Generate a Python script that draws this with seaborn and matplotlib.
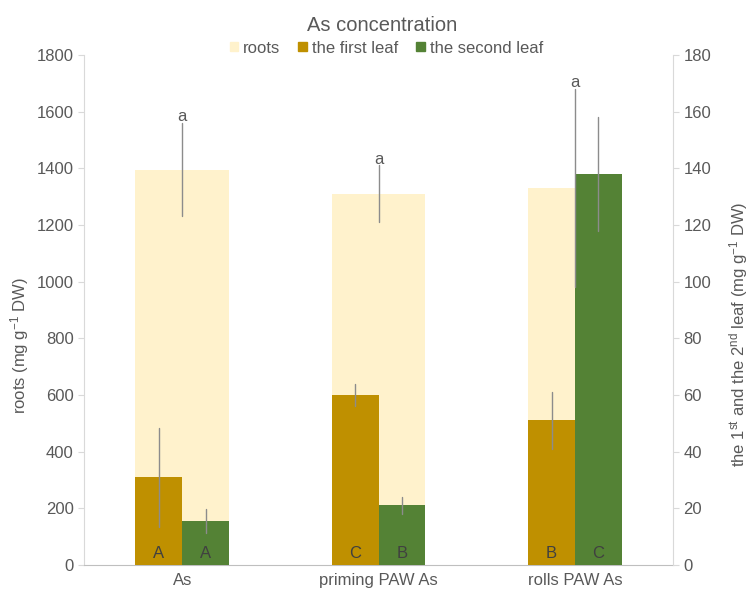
import matplotlib
matplotlib.use('Agg')
import matplotlib.pyplot as plt
from matplotlib.patches import Patch
import seaborn as sns
import pandas as pd

# Data
GROUPS = ['As', 'priming PAW As', 'rolls PAW As']
ROOTS = [1395, 1310, 1330]
ROOTS_ERR = [165, 100, 350]
FIRST_LEAF = [31, 60, 51]
FIRST_ERR = [17.5, 3.8, 10]
SECOND_LEAF = [15.5, 21, 138]
SECOND_ERR = [4.3, 3, 20]
ROOT_LETTERS = ['a', 'a', 'a']
FIRST_LETTERS = ['A', 'C', 'B']
SECOND_LETTERS = ['A', 'B', 'C']
TISSUES = ['the first leaf', 'the second leaf']

C_ROOT = '#FFF2CC'
C_FIRST = '#BF9000'
C_SECOND = '#548235'
C_TEXT = '#595959'
C_ERR = '#8c8c8c'

sns.set_style('white')
plt.rcParams['font.family'] = ['Liberation Sans', 'DejaVu Sans']
plt.rcParams['mathtext.fontset'] = 'custom'
plt.rcParams['mathtext.rm'] = 'Liberation Sans'
plt.rcParams['mathtext.it'] = 'Liberation Sans:italic'

fig = plt.figure(figsize=(7.53, 6.01), dpi=100)
ax = fig.add_axes([0.1116, 0.0599, 0.7822, 0.8486])
ax2 = ax.twinx()

# roots on left axis (background)
sns.barplot(x=GROUPS, y=ROOTS, color=C_ROOT, saturation=1, width=0.476,
            linewidth=0, ax=ax, errorbar=None)

# leaves on right axis
leaf_df = pd.DataFrame({
    'group': GROUPS * 2,
    'tissue': [TISSUES[0]] * 3 + [TISSUES[1]] * 3,
    'value': FIRST_LEAF + SECOND_LEAF,
})
sns.barplot(data=leaf_df, x='group', y='value', hue='tissue', order=GROUPS,
            hue_order=TISSUES, palette=[C_FIRST, C_SECOND], saturation=1,
            width=0.476, gap=0, linewidth=0, errorbar=None, legend=False,
            ax=ax2)

# root error bars drawn on the top axes, but in root units
root_centers = [p.get_x() + p.get_width() / 2 for p in ax.patches]
for xc, v, e, lab in zip(root_centers, ROOTS, ROOTS_ERR, ROOT_LETTERS):
    ax2.plot([xc, xc], [v - e, v + e], color=C_ERR, lw=1.0,
             transform=ax.transData, zorder=5)
    ax2.text(xc, v + e + 22, lab, ha='center', va='center', fontsize=12,
             color=C_TEXT, transform=ax.transData, zorder=6)

for cont, vals, errs, labs in zip(ax2.containers,
                                  [FIRST_LEAF, SECOND_LEAF],
                                  [FIRST_ERR, SECOND_ERR],
                                  [FIRST_LETTERS, SECOND_LETTERS]):
    for p, v, e, lab in zip(cont.patches, vals, errs, labs):
        xc = p.get_x() + p.get_width() / 2
        ax2.plot([xc, xc], [v - e, v + e], color=C_ERR, lw=1.0, zorder=5)
        ax2.text(xc, 4, lab, ha='center', va='center', fontsize=12,
                 color='#404040', zorder=6)

ax.set_xlim(-0.5, 2.5)
ax.set_ylim(0, 1800)
ax2.set_ylim(0, 180)

# axes styling
for a in (ax, ax2):
    a.spines['top'].set_visible(False)
    a.tick_params(axis='y', colors='#d9d9d9', labelcolor=C_TEXT,
                  labelsize=12, length=4, width=0.8, direction='out')
    a.tick_params(axis='x', length=0, labelsize=12, labelcolor=C_TEXT, pad=6)
ax.spines['right'].set_visible(False)
ax2.spines['left'].set_visible(False)
ax2.spines['bottom'].set_visible(False)
ax.spines['left'].set_color('#d9d9d9')
ax2.spines['right'].set_color('#d9d9d9')
ax.spines['bottom'].set_color('#bfbfbf')
ax.set_yticks(range(0, 1801, 200))
ax2.set_yticks(range(0, 181, 20))
ax.set_xlabel('')
ax2.set_xlabel('')

ax.set_ylabel(r'roots (mg g$^{\mathrm{-1}}$ DW)', fontsize=12, color=C_TEXT)
ax.yaxis.set_label_coords(-0.11, 0.43)
ax.yaxis.label.set_va('center')
ax2.set_ylabel(r'the 1$^{\mathrm{st}}$ and the 2$^{\mathrm{nd}}$ leaf (mg g$^{\mathrm{-1}}$ DW)',
               fontsize=12, color=C_TEXT, rotation=90)
ax2.yaxis.set_label_coords(1.112, 0.453)
ax2.yaxis.label.set_va('center')

fig.text(0.508, 0.957, 'As concentration', ha='center', va='center',
         fontsize=14.5, color=C_TEXT)

handles = [Patch(color=C_ROOT, label='roots'),
           Patch(color=C_FIRST, label=TISSUES[0]),
           Patch(color=C_SECOND, label=TISSUES[1])]
leg = fig.legend(handles=handles, loc='center', bbox_to_anchor=(0.513, 0.92),
                 ncol=3, frameon=False, fontsize=12, handlelength=0.5,
                 handleheight=0.5, handletextpad=0.3, columnspacing=1.1)
for t in leg.get_texts():
    t.set_color(C_TEXT)

fig.savefig('out.png', dpi=100)
